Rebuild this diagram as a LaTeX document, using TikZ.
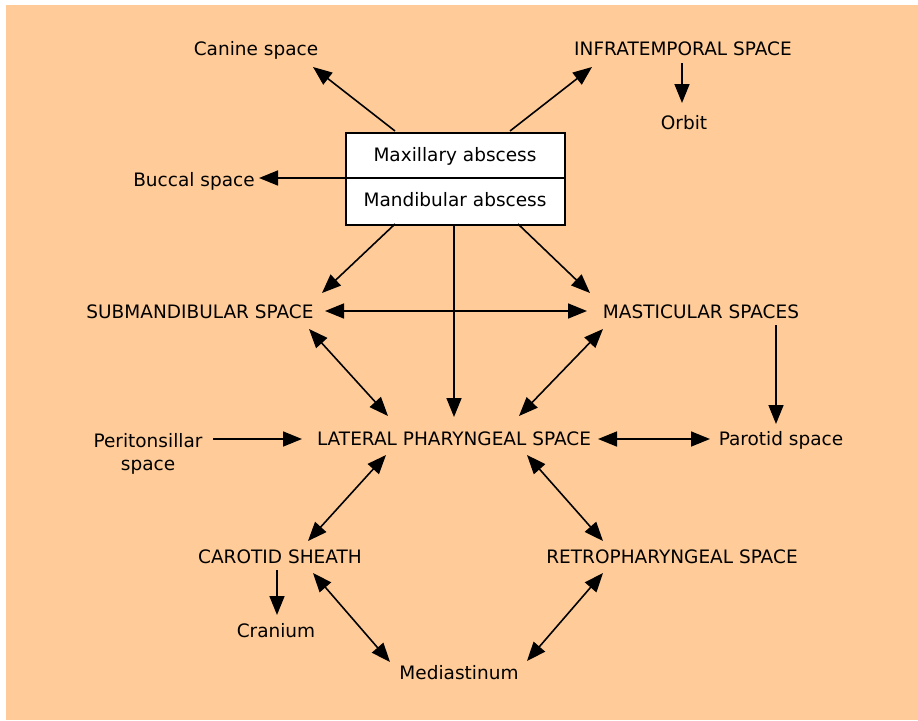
\documentclass[tikz,border=0pt]{standalone}
\usepackage{fontspec}
\setmainfont{DejaVu Sans}
\usetikzlibrary{arrows.meta}
\definecolor{peach}{HTML}{FFCC99}
\begin{document}
\begin{tikzpicture}[x=1pt,y=-1pt,
  lbl/.style={inner sep=0pt,anchor=base,font=\fontsize{18.5}{23}\selectfont},
  conn/.style={line width=1.6pt,-{Triangle[length=19pt,width=15pt]}},
  dconn/.style={line width=1.6pt,{Triangle[length=19pt,width=15pt]}-{Triangle[length=19pt,width=15pt]}}]
\useasboundingbox[fill=white] (0,0) rectangle (918,720);
\fill[peach] (6,5) rectangle (918,720);
% box
\node[draw,line width=1.6pt,fill=white,minimum width=219pt,minimum height=92pt,inner sep=0pt,anchor=north west] (box) at (345,132) {};
\draw[line width=1.6pt] (box.west |- 0,178) -- (box.east |- 0,178);
\node[lbl] (maxt) at (455,161) {Maxillary abscess};
\node[lbl] (mandt) at (455,206) {Mandibular abscess};
% labels
\node[lbl] (canine) at (256,55) {Canine space};
\node[lbl] (infra) at (683,55) {INFRATEMPORAL SPACE};
\node[lbl] (orbit) at (684,129) {Orbit};
\node[lbl] (buccal) at (194,186) {Buccal space};
\node[lbl] (sub) at (200,318) {SUBMANDIBULAR SPACE};
\node[lbl] (mast) at (701,318) {MASTICULAR SPACES};
\node[lbl,align=center] (peri) at (148,470) {Peritonsillar\\space};
\node[lbl] (lat) at (454,445) {LATERAL PHARYNGEAL SPACE};
\node[lbl] (parotid) at (781,445) {Parotid space};
\node[lbl] (carotid) at (280,563) {CAROTID SHEATH};
\node[lbl] (retro) at (672,563) {RETROPHARYNGEAL SPACE};
\node[lbl] (cranium) at (276,637) {Cranium};
\node[lbl] (medi) at (459,679) {Mediastinum};
% endpoints
\coordinate (bxTL) at (395,131);
\coordinate (bxTR) at (510,131);
\coordinate (bxL) at (345,178);
\coordinate (bxBL) at (395,224);
\coordinate (bxBM) at (454,224);
\coordinate (bxBR) at (518,224);
\coordinate (canE) at (313,67);
\coordinate (infW) at (592,67);
\coordinate (infS) at (682,63);
\coordinate (orbN) at (682,103);
\coordinate (bucE) at (259,178);
\coordinate (subE) at (322,293);
\coordinate (subR) at (325,311);
\coordinate (subSE) at (309,329);
\coordinate (masW) at (590,293);
\coordinate (masL) at (587,311);
\coordinate (masSW) at (603,329);
\coordinate (masS) at (776,325);
\coordinate (parN) at (776,424);
\coordinate (latN) at (454,417);
\coordinate (latNW) at (388,416);
\coordinate (latNE) at (519,416);
\coordinate (latW) at (302,439);
\coordinate (latE) at (598,439);
\coordinate (latSW) at (386,455);
\coordinate (latSE) at (527,455);
\coordinate (periE) at (213,439);
\coordinate (parW) at (710,439);
\coordinate (carNE) at (308,541);
\coordinate (carS) at (277,570);
\coordinate (carSE) at (313,573);
\coordinate (craN) at (277,615);
\coordinate (retNW) at (603,541);
\coordinate (retSW) at (603,573);
\coordinate (medNW) at (390,662);
\coordinate (medNE) at (527,661);
% connectors
\draw[conn] (bxTL) -- (canE);
\draw[conn] (bxTR) -- (infW);
\draw[conn] (infS) -- (orbN);
\draw[conn] (bxL) -- (bucE);
\draw[conn] (bxBL) -- (subE);
\draw[conn] (bxBM) -- (latN);
\draw[conn] (bxBR) -- (masW);
\draw[dconn] (subR) -- (masL);
\draw[dconn] (subSE) -- (latNW);
\draw[dconn] (masSW) -- (latNE);
\draw[conn] (masS) -- (parN);
\draw[conn] (periE) -- (latW);
\draw[dconn] (latE) -- (parW);
\draw[dconn] (latSW) -- (carNE);
\draw[dconn] (latSE) -- (retNW);
\draw[conn] (carS) -- (craN);
\draw[dconn] (carSE) -- (medNW);
\draw[dconn] (retSW) -- (medNE);
\end{tikzpicture}
\end{document}
